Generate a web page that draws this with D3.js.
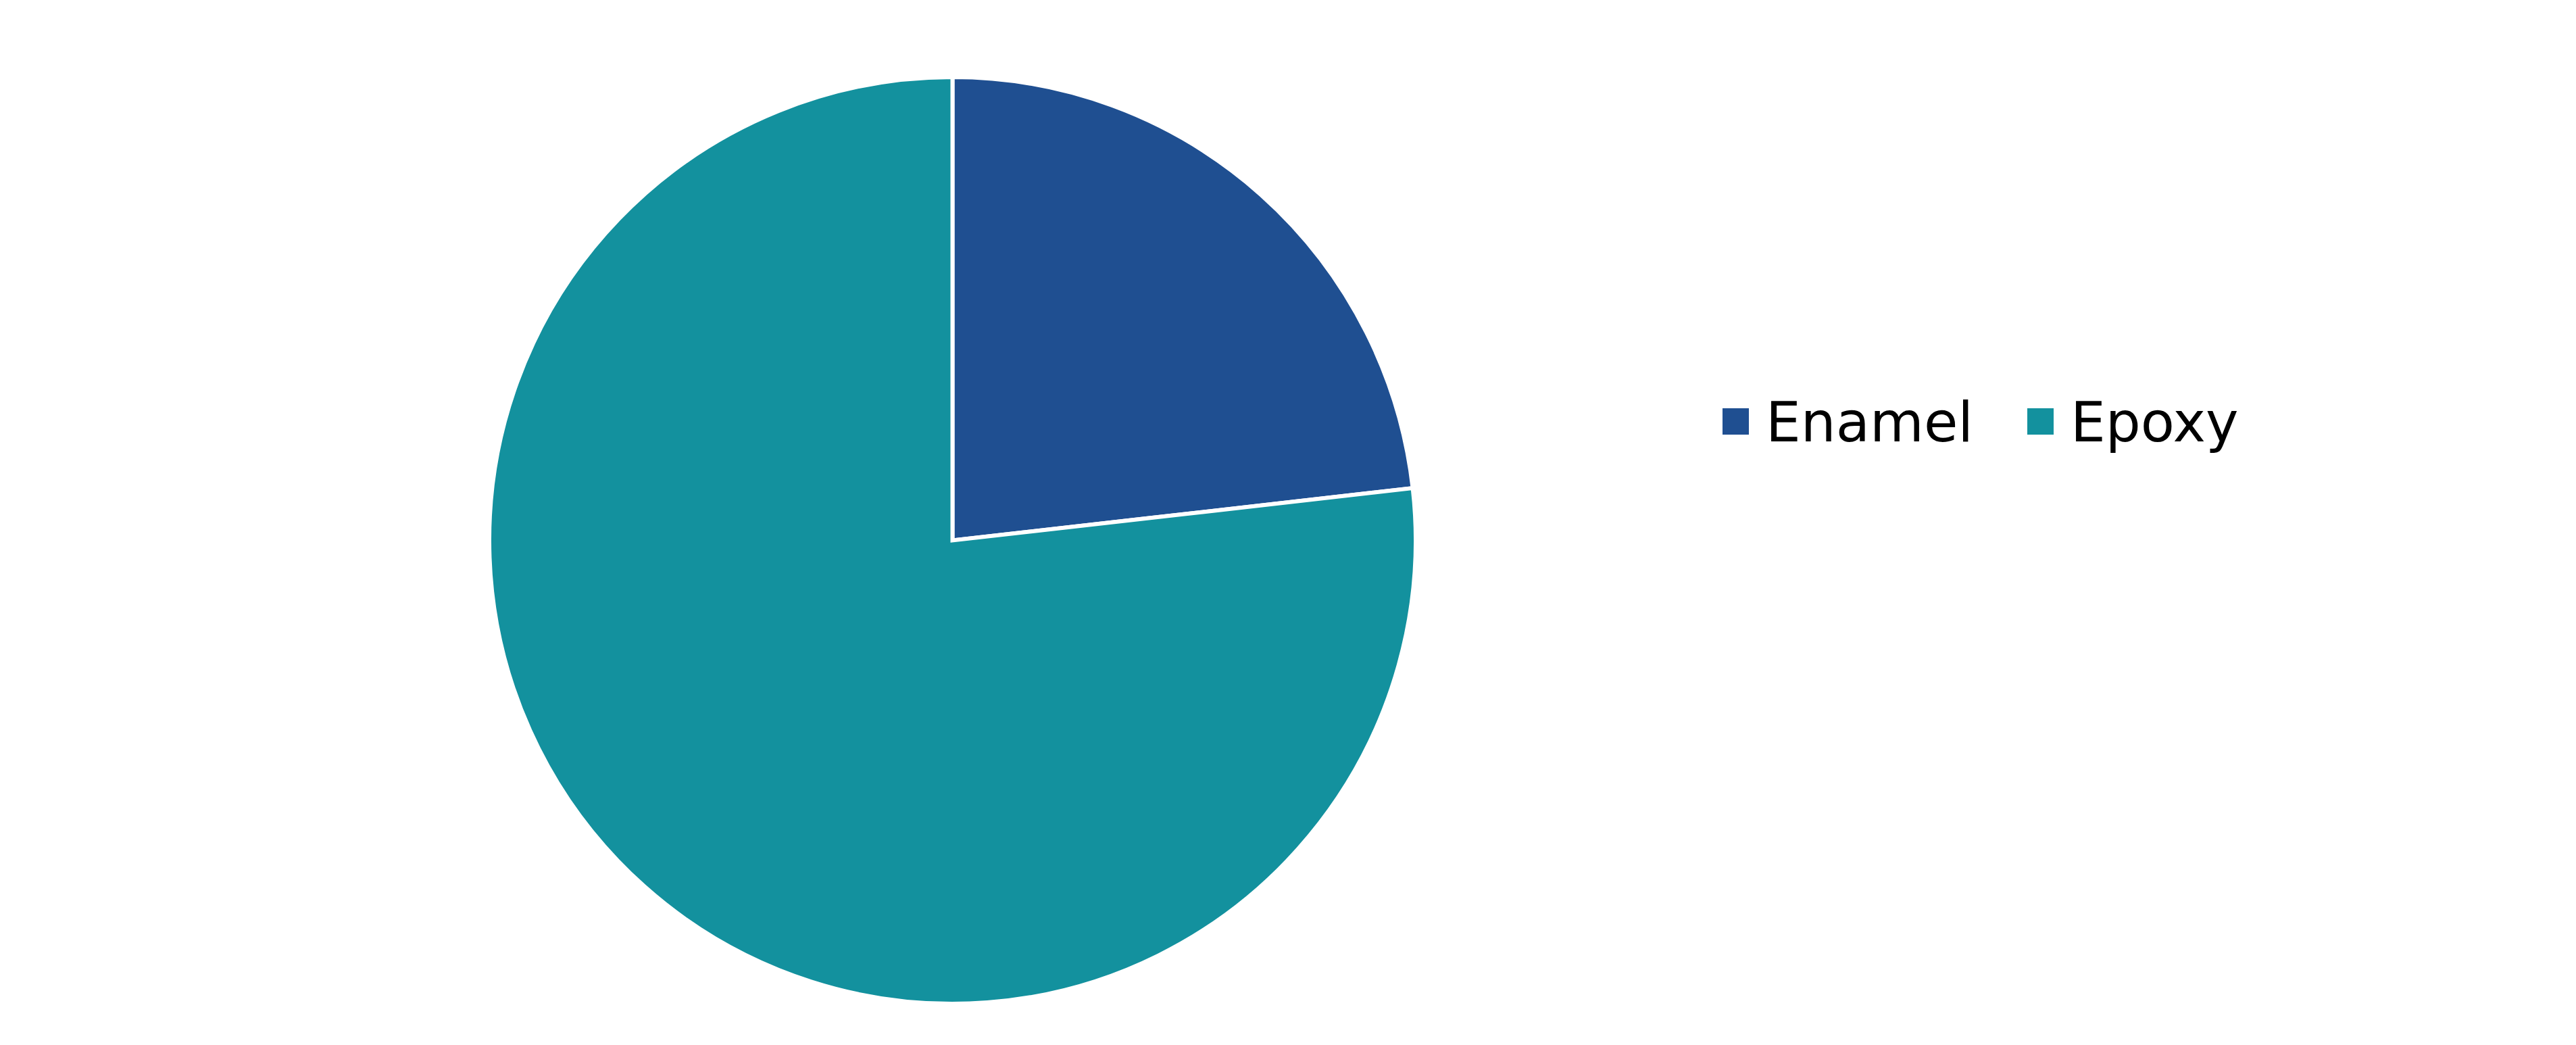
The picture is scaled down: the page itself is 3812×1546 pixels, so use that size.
<!DOCTYPE html>
<html><head><meta charset="utf-8">
<script src="https://cdn.jsdelivr.net/npm/d3@7/dist/d3.min.js"></script>
<style>html,body{margin:0;padding:0;background:#fff;overflow:hidden}</style>
</head><body>
<svg id="chart" width="3812" height="1546"></svg>
<script>
const categories = ["Enamel", "Epoxy"];
const values = [23.2, 76.8];
const colors = ["#1f4f91", "#13919e"];

const svg = d3.select("#chart");
const cx = 1409.5, cy = 799.5, r = 685.5;
const pie = d3.pie().sort(null).value(d => d.v);
const arcs = pie(categories.map((c, i) => ({c, v: values[i], col: colors[i]})));
const arc = d3.arc().innerRadius(0).outerRadius(r);
const g = svg.append("g").attr("transform", `translate(${cx},${cy})`);
g.selectAll("path").data(arcs).join("path")
  .attr("d", arc)
  .attr("fill", d => d.data.col)
  .attr("stroke", "#fff")
  .attr("stroke-width", 6)
  .attr("stroke-linejoin", "miter");

const legend = svg.append("g");
const legX = [2549, 3000];
categories.forEach((c, i) => {
  const lg = legend.append("g").attr("transform", `translate(${legX[i]},604)`);
  lg.append("rect").attr("width", 39).attr("height", 39).attr("fill", colors[i]);
  lg.append("text").attr("x", 64).attr("y", 49)
    .attr("font-family", "DejaVu Sans, Verdana, sans-serif")
    .attr("font-size", 82).attr("fill", "#000").text(c);
});
</script>
</body></html>
